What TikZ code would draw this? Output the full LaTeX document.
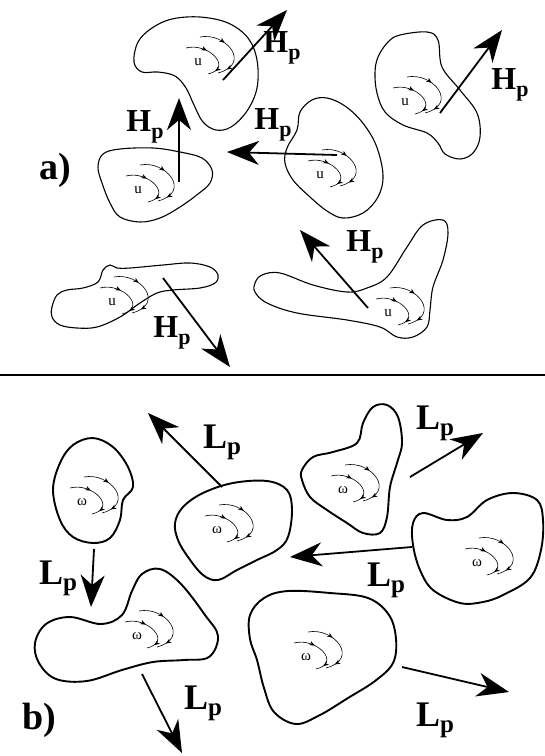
\documentclass[tikz,border=0pt]{standalone}
\usepackage{fontspec}
\setmainfont{Liberation Serif}
\usetikzlibrary{
	arrows.meta,
	decorations.markings
}
\newcommand{\Hlab}{\fontsize{32}{32}\selectfont\bfseries H\raisebox{-7pt}{\fontsize{22}{22}\selectfont p}}
\newcommand{\Llab}{\fontsize{36}{36}\selectfont\bfseries L\raisebox{-6pt}{\fontsize{25}{25}\selectfont p}}

\tikzset{
	blob/.style={line width=1.1pt},
	blobthick/.style={line width=1.9pt},
	flux/.style={line width=1.8pt, -{Stealth[length=32pt, width=24pt, inset=10pt]}},
	fluxlabel/.style={inner sep=0pt},
	swirl/.style={line width=0.6pt, postaction={decorate}, decoration={markings,
		mark=at position 0.38 with {\arrow{Stealth[length=5.5pt, width=4.5pt]}},
		mark=at position 0.86 with {\arrow{Stealth[length=5.5pt, width=4.5pt]}}}},
	vortex/.pic={
		\node[font=\fontsize{15}{15}\selectfont, inner sep=0pt] (-c) at (0,0) {#1};
		\draw[swirl] (-12,-14) .. controls (10,-20) and (36,6) .. (10,12);
		\draw[swirl] (2,-25) .. controls (28,-30) and (54,2) .. (20,11);
	},
	panel/.style={font=\fontsize{38}{38}\selectfont\bfseries, inner sep=0pt}
}

\begin{document}
\begin{tikzpicture}[x=1pt, y=-1pt]
	\path[use as bounding box, fill=white] (0,0) rectangle (545,756);

	% a) velocity blobs
	\node[panel] (pa) at (55,170) {a)};

	\draw[blob] plot[smooth cycle, tension=0.6] coordinates {(134,62) (138,42) (152,28) (172,19) (200,17) (228,23) (248,38) (257,60) (257,88) (247,111) (231,127) (216,130) (203,122) (194,105) (186,88) (175,76) (158,72) (142,72)};
	\draw[blob] plot[smooth cycle, tension=0.6] coordinates {(388,42) (400,35) (427,32) (438,40) (442,67) (460,90) (477,113) (480,137) (473,153) (460,159) (445,154) (438,143) (427,133) (403,125) (385,112) (377,93) (375,73) (378,57)};
	\draw[blob] plot[smooth cycle, tension=0.6] coordinates {(98,167) (103,154) (120,149) (153,148) (180,152) (202,158) (212,170) (210,183) (198,194) (180,207) (160,218) (140,222) (120,217) (110,203) (102,183)};
	\draw[blob] plot[smooth cycle, tension=0.6] coordinates {(297,130) (300,112) (312,100) (327,98) (345,106) (362,122) (376,145) (383,175) (378,197) (363,213) (343,218) (327,211) (310,197) (293,180) (285,163) (287,148)};
	\draw[blob] plot[smooth cycle, tension=0.6] coordinates {(52,307) (57,295) (67,290) (83,288) (98,282) (103,270) (110,265) (117,268) (130,268) (163,265) (190,263) (210,267) (218,275) (215,283) (200,288) (173,290) (157,293) (140,303) (120,317) (97,327) (77,328) (60,325) (52,317)};
	\draw[blob] plot[smooth cycle, tension=0.6] coordinates {(255,283) (262,275) (280,273) (313,285) (347,292) (367,288) (387,277) (407,247) (423,225) (443,220) (448,233) (443,260) (433,287) (430,310) (427,327) (413,337) (397,337) (380,327) (347,320) (297,313) (267,303) (255,292)};

	\pic (ua1) at (198,62) {vortex=u};
	\pic (ua2) at (405,102) {vortex=u};
	\pic (ua3) at (138,190) {vortex=u};
	\pic (ua4) at (320,175) {vortex=u};
	\pic (ua5) at (112,302) {vortex=u};
	\pic (ua6) at (388,313) {vortex=u};

	\coordinate (s1) at (223,80);  \coordinate (t1) at (287,10);
	\coordinate (s2) at (440,113); \coordinate (t2) at (502,30);
	\coordinate (s3) at (179,182); \coordinate (t3) at (179,98);
	\coordinate (s4) at (337,155); \coordinate (t4) at (227,152);
	\coordinate (s5) at (163,278); \coordinate (t5) at (230,367);
	\coordinate (s6) at (368,308); \coordinate (t6) at (300,230);
	\foreach \i in {1,...,6}
		\draw[flux] (s\i) -- (t\i);

	\node[fluxlabel] (h1) at (282,48) {\Hlab};
	\node[fluxlabel] (h2) at (510,85) {\Hlab};
	\node[fluxlabel] (h3) at (145,127) {\Hlab};
	\node[fluxlabel] (h4) at (273,125) {\Hlab};
	\node[fluxlabel] (h5) at (172,333) {\Hlab};
	\node[fluxlabel] (h6) at (365,247) {\Hlab};

	\coordinate (sepL) at (0,375);
	\coordinate (sepR) at (545,375);
	\draw[line width=2.5pt] (sepL) -- (sepR);

	% b) vorticity blobs
	\node[panel] (pb) at (39,720) {b)};

	\draw[blobthick] plot[smooth cycle, tension=0.6] coordinates {(93,438) (113,447) (128,467) (133,487) (123,500) (120,520) (110,538) (93,543) (73,537) (60,520) (53,490) (60,463) (73,445)};
	\draw[blobthick] plot[smooth cycle, tension=0.6] coordinates {(175,523) (183,507) (203,493) (233,483) (267,481) (287,490) (292,510) (288,537) (277,550) (257,560) (237,570) (218,580) (203,575) (188,557) (178,540)};
	\draw[blobthick] plot[smooth cycle, tension=0.6] coordinates {(302,470) (313,457) (333,452) (357,443) (363,423) (373,407) (387,405) (398,417) (402,443) (397,463) (390,487) (387,517) (380,533) (363,533) (347,523) (327,510) (310,497) (302,480)};
	\draw[blobthick] plot[smooth cycle, tension=0.6] coordinates {(413,523) (423,513) (447,520) (467,517) (487,500) (513,493) (537,500) (543,520) (541,550) (530,578) (503,595) (483,602) (460,603) (433,590) (420,570) (413,545)};
	\draw[blobthick] plot[smooth cycle, tension=0.6] coordinates {(35,643) (46,624) (70,617) (101,624) (122,615) (132,591) (142,574) (160,569) (181,584) (205,615) (218,636) (209,657) (184,660) (153,662) (122,670) (87,681) (56,679) (39,663)};
	\draw[blobthick] plot[smooth cycle, tension=0.6] coordinates {(250,615) (264,598) (288,591) (330,593) (368,598) (389,615) (396,639) (393,663) (375,681) (348,698) (320,715) (296,724) (274,712) (264,688) (257,660) (250,639)};

	\pic (wb1) at (82,502) {vortex=ω};
	\pic (wb2) at (217,530) {vortex=ω};
	\pic (wb3) at (343,490) {vortex=ω};
	\pic (wb4) at (477,563) {vortex=ω};
	\pic (wb5) at (137,636) {vortex=ω};
	\pic (wb6) at (306,657) {vortex=ω};

	\coordinate (s7) at (94,549);   \coordinate (t7) at (91,607);
	\coordinate (s8) at (222,487);  \coordinate (t8) at (148,413);
	\coordinate (s9) at (410,477);  \coordinate (t9) at (483,433);
	\coordinate (s10) at (412,547); \coordinate (t10) at (290,557);
	\coordinate (s11) at (142,674); \coordinate (t11) at (182,753);
	\coordinate (s12) at (402,667); \coordinate (t12) at (509,692);
	\foreach \i in {7,...,12}
		\draw[flux] (s\i) -- (t\i);

	\node[fluxlabel] (l1) at (58,578) {\Llab};
	\node[fluxlabel] (l2) at (222,442) {\Llab};
	\node[fluxlabel] (l3) at (435,423) {\Llab};
	\node[fluxlabel] (l4) at (386,580) {\Llab};
	\node[fluxlabel] (l5) at (203,703) {\Llab};
	\node[fluxlabel] (l6) at (435,720) {\Llab};
\end{tikzpicture}
\end{document}
